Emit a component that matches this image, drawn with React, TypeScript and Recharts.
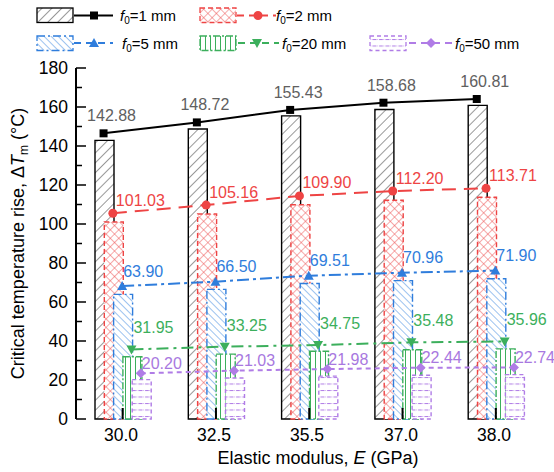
import { ComposedChart, Bar, Line, XAxis, YAxis, LabelList } from 'recharts';

const categories = ['30.0', '32.5', '35.5', '37.0', '38.0'];

// bar heights (critical temperature rise, labelled values)
const bars1mm = [142.88, 148.72, 155.43, 158.68, 160.81];
const bars2mm = [101.03, 105.16, 109.9, 112.2, 113.71];
const bars5mm = [63.9, 66.5, 69.51, 70.96, 71.9];
const bars20mm = [31.95, 33.25, 34.75, 35.48, 35.96];
const bars50mm = [20.2, 21.03, 21.98, 22.44, 22.74];

// trend lines drawn above the bars
const line1mm = [146.5, 152.1, 158.5, 162.2, 164.1];
const line2mm = [105.5, 109.7, 114.4, 116.9, 118.3];
const line5mm = [68.2, 70.4, 73.5, 75.0, 76.1];
const line20mm = [35.7, 37.1, 37.9, 39.3, 39.8];
const line50mm = [23.4, 24.8, 25.6, 26.3, 26.4];

const legendNames = ['1', '2', '5', '20', '50'];
const yTicks = [0, 10, 20, 30, 40, 50, 60, 70, 80, 90, 100, 110, 120, 130, 140, 150, 160, 170, 180];

const data = categories.map((cat, i) => ({
  cat,
  b0: bars1mm[i], b1: bars2mm[i], b2: bars5mm[i], b3: bars20mm[i], b4: bars50mm[i],
  l0: line1mm[i], l1: line2mm[i], l2: line5mm[i], l3: line20mm[i], l4: line50mm[i],
}));

const FONT = '"Liberation Sans", Arial, sans-serif';

const series = [
  { color: '#000', label: '#606060', border: undefined, dash: undefined, marker: 'square', anchor: 'middle', dx: 8, dy: -12 },
  { color: '#ee4444', label: '#ee4444', border: '5 3', dash: '14 8', marker: 'circle', anchor: 'start', dx: 3, dy: -7.5 },
  { color: '#2f7ddc', label: '#2f7ddc', border: '8 3 2 3', dash: '12 4 3 4', marker: 'tri', anchor: 'start', dx: 1, dy: -9.5 },
  { color: '#3caf5c', label: '#3caf5c', border: '7 2 2 2', dash: '12 5 3 5', marker: 'tridown', anchor: 'start', dx: 2, dy: -16 },
  { color: '#b07ce6', label: '#a878e0', border: '4 3', dash: '5 4', marker: 'diamond', anchor: 'start', dx: 1, dy: -4.5 },
];

// bar group geometry: bars 19 px wide, each shifted ~9.3 px
const BAR_SIZE = 19;
const BAR_GAP = -9.7;
const PAD_RIGHT = 11.5;
const AXIS_Y = 419;
const lineShift = [-19.1, -9.8, -0.5, 8.8, 18.1];

function Patterns({ p }: { p: string }) {
  return (
    <defs>
      <pattern id={`${p}0`} patternUnits="userSpaceOnUse" width={7} height={7} patternTransform="rotate(45)">
        <rect width={7} height={7} fill="#fff" />
        <line x1={0} y1={0} x2={0} y2={7} stroke="#333" strokeWidth={1} />
      </pattern>
      <pattern id={`${p}1`} patternUnits="userSpaceOnUse" width={6} height={6} patternTransform="rotate(45)">
        <rect width={6} height={6} fill="#fff" />
        <line x1={0} y1={0} x2={0} y2={6} stroke="#ee5555" strokeWidth={1} />
        <line x1={0} y1={0} x2={6} y2={0} stroke="#ee5555" strokeWidth={1} />
      </pattern>
      <pattern id={`${p}2`} patternUnits="userSpaceOnUse" width={5} height={5} patternTransform="rotate(-45)">
        <rect width={5} height={5} fill="#fff" />
        <line x1={0} y1={0} x2={0} y2={5} stroke="#3a86e0" strokeWidth={1} />
      </pattern>
      <pattern id={`${p}3`} patternUnits="userSpaceOnUse" width={5} height={5}>
        <rect width={5} height={5} fill="#fff" />
        <line x1={0.5} y1={0} x2={0.5} y2={5} stroke="#3caf5c" strokeWidth={1} />
      </pattern>
      <pattern id={`${p}4`} patternUnits="userSpaceOnUse" width={6.5} height={6.5}>
        <rect width={6.5} height={6.5} fill="#fff" />
        <line x1={2} y1={0.5} x2={6} y2={0.5} stroke="#b07ce6" strokeWidth={1} />
        <line x1={0} y1={0.5} x2={0.5} y2={0.5} stroke="#b07ce6" strokeWidth={1} />
      </pattern>
    </defs>
  );
}

function Marker({ kind, cx, cy, color }: { kind: string; cx: number; cy: number; color: string }) {
  if (kind === 'square') return <rect x={cx - 4} y={cy - 4} width={8} height={8} fill={color} />;
  if (kind === 'circle') return <circle cx={cx} cy={cy} r={4.5} fill={color} />;
  if (kind === 'tri') return <polygon points={`${cx},${cy - 5} ${cx + 5},${cy + 4} ${cx - 5},${cy + 4}`} fill={color} />;
  if (kind === 'tridown') return <polygon points={`${cx},${cy + 5} ${cx + 5},${cy - 4} ${cx - 5},${cy - 4}`} fill={color} />;
  return <polygon points={`${cx},${cy - 5} ${cx + 5},${cy} ${cx},${cy + 5} ${cx - 5},${cy}`} fill={color} />;
}

const renderXTick = (props: any) => {
  const { x, payload, index } = props;
  return (
    <g key={`xt${index}`}>
      <line x1={x} x2={x} y1={AXIS_Y} y2={AXIS_Y - 11} stroke="#000" strokeWidth={2} />
      <text x={Math.round(x - 2)} y={AXIS_Y + 22} textAnchor="middle" fontSize={17.5} fontFamily={FONT} fill="#000" stroke="none">
        {payload.value}
      </text>
    </g>
  );
};

const renderYTick = (props: any) => {
  const { x, y, payload, index } = props;
  const major = payload.value % 20 === 0;
  return (
    <g key={`yt${index}`}>
      <line x1={x} x2={x + (major ? 10 : 6)} y1={y} y2={y} stroke="#000" strokeWidth={1.5} />
      {major && (
        <text x={x - 8} y={y} dy="0.35em" textAnchor="end" fontSize={17.5} fontFamily={FONT} fill="#000" stroke="none">
          {payload.value}
        </text>
      )}
    </g>
  );
};

function LegendBox() {
  const rows = [
    { i: 0, bx: 37, by: 8, lx1: 74, lx2: 113, mx: 94, tx: 120, ty: 15.5 },
    { i: 1, bx: 200, by: 8, lx1: 237, lx2: 276, mx: 258, tx: 276, ty: 15.5 },
    { i: 2, bx: 37, by: 36, lx1: 74, lx2: 113, mx: 94, tx: 122, ty: 43 },
    { i: 3, bx: 200, by: 36, lx1: 238, lx2: 279, mx: 257, tx: 282, ty: 43 },
    { i: 4, bx: 370, by: 36, lx1: 409, lx2: 452, mx: 431, tx: 455, ty: 43 },
  ];
  return (
    <svg width={554} height={60} style={{ position: 'absolute', left: 0, top: 0 }}>
      <Patterns p="lg" />
      {rows.map((r) => {
        const s = series[r.i];
        return (
          <g key={r.i}>
            <rect x={r.bx} y={r.by} width={36} height={14.5} fill={`url(#lg${r.i})`} stroke={s.color} strokeWidth={1.3} strokeDasharray={s.border} />
            <line x1={r.lx1} x2={r.lx2} y1={r.ty} y2={r.ty} stroke={s.color} strokeWidth={2} strokeDasharray={s.dash ? '7 5' : undefined} />
            <Marker kind={s.marker} cx={r.mx} cy={r.ty} color={s.color} />
            <text x={r.tx} y={r.ty + 5.5} fontSize={15} fontFamily={FONT} fill="#000">
              <tspan fontStyle="italic">f</tspan>
              <tspan fontSize={10} dy={3}>0</tspan>
              <tspan dy={-3}>{`=${legendNames[r.i]} mm`}</tspan>
            </text>
          </g>
        );
      })}
    </svg>
  );
}

export default function App() {
  return (
    <div style={{ position: 'absolute', left: 0, top: 0, width: 554, height: 472, background: '#fff' }}>
      <ComposedChart
        width={554}
        height={472}
        data={data}
        margin={{ top: 68, right: 0, bottom: 0, left: 0 }}
        barGap={BAR_GAP}
      >
        <Patterns p="bp" />
        <XAxis
          xAxisId="x"
          dataKey="cat"
          height={53}
          padding={{ left: 0, right: PAD_RIGHT }}
          axisLine={{ stroke: '#000', strokeWidth: 2 }}
          tickLine={false}
          tickSize={0}
          tickMargin={0}
          tick={renderXTick}
          label={{
            content: () => (
              <text x={318} y={464} textAnchor="middle" fontSize={18} fontFamily={FONT} fill="#000">
                Elastic modulus, <tspan fontStyle="italic">E</tspan> (GPa)
              </text>
            ),
          }}
        />
        {lineShift.map((off, i) => (
          <XAxis
            key={i}
            xAxisId={`l${i}`}
            dataKey="cat"
            hide
            tick={false}
            axisLine={false}
            tickLine={false}
            height={53}
            padding={{ left: off, right: PAD_RIGHT - off }}
          />
        ))}
        <YAxis
          width={76}
          domain={[0, 180]}
          ticks={yTicks}
          interval={0}
          axisLine={{ stroke: '#000', strokeWidth: 2 }}
          tickLine={false}
          tickSize={0}
          tickMargin={0}
          tick={renderYTick}
          label={{
            content: () => (
              <text
                x={0}
                y={0}
                transform="translate(24 243.5) rotate(-90)"
                textAnchor="middle"
                fontSize={18}
                fontFamily={FONT}
                fill="#000"
              >
                Critical temperature rise, Δ<tspan fontStyle="italic">T</tspan>
                <tspan fontSize={12} dy={4}>m</tspan>
                <tspan dy={-4}> (°C)</tspan>
              </text>
            ),
          }}
        />
        {series.map((s, i) => (
          <Bar
            key={`b${i}`}
            xAxisId="x"
            dataKey={`b${i}`}
            barSize={BAR_SIZE}
            fill={`url(#bp${i})`}
            stroke={s.color}
            strokeWidth={1.4}
            strokeDasharray={s.border}
            isAnimationActive={false}
          />
        ))}
        {series.map((s, i) => (
          <Line
            key={`l${i}`}
            xAxisId={`l${i}`}
            dataKey={`l${i}`}
            stroke={s.color}
            strokeWidth={2}
            strokeDasharray={s.dash}
            dot={(p: any) => <Marker key={p.index} kind={s.marker} cx={p.cx} cy={p.cy} color={s.color} />}
            activeDot={false}
            isAnimationActive={false}
          >
            <LabelList
              dataKey={`b${i}`}
              content={(p: any) => (
                <text
                  x={p.x + s.dx}
                  y={p.y + s.dy}
                  textAnchor={s.anchor as any}
                  fontSize={16}
                  fontFamily={FONT}
                  fill={s.label}
                >
                  {Number(p.value).toFixed(2)}
                </text>
              )}
            />
          </Line>
        ))}
      </ComposedChart>
      <LegendBox />
    </div>
  );
}
